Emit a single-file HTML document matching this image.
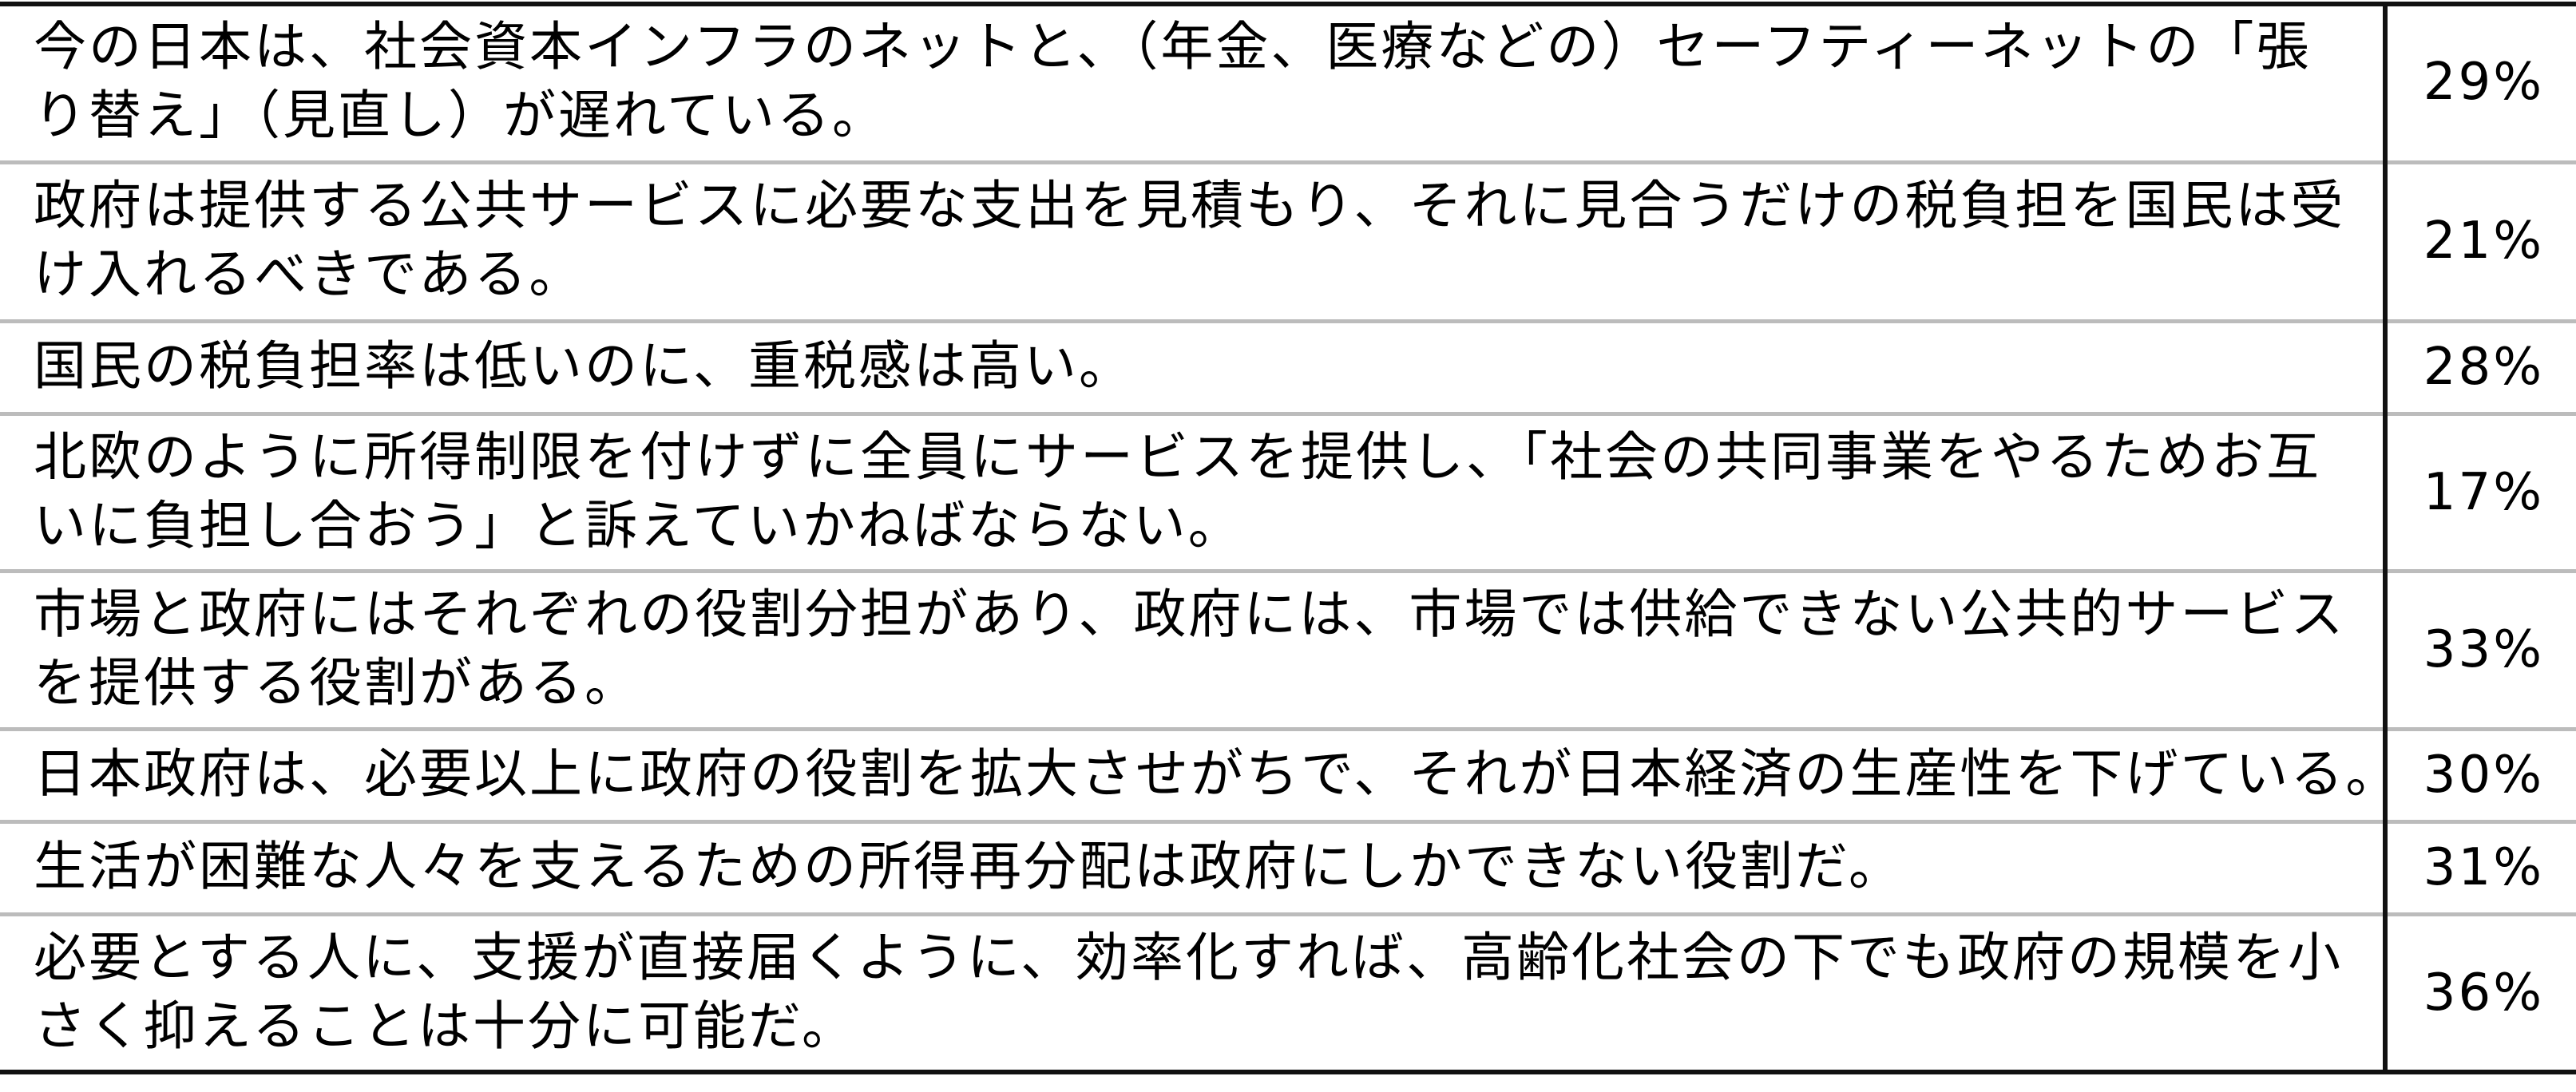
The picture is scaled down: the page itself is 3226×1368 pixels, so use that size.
<!DOCTYPE html>
<html><head><meta charset="utf-8"><style>
body{margin:0;width:3226px;height:1368px;background:#fff;position:relative;overflow:hidden;font-family:"Liberation Sans","Noto Sans CJK JP",sans-serif;color:#000}
.h{position:absolute;left:0;width:3226px}
.g{height:5px;background:#bcbcbc}
.b{height:6px;background:#111}
.v{position:absolute;left:2984px;top:4px;width:6px;height:1340px;background:#111}
.t{position:absolute;left:42px;font-size:66px;letter-spacing:3px;white-space:nowrap;line-height:86px;height:86px;margin-top:-45px}
.p{position:absolute;left:2990px;width:196px;text-align:right;font-size:64px;letter-spacing:3px;line-height:86px;margin-top:-43px;font-family:"DejaVu Sans",sans-serif}
</style></head><body>
<div class="h b" style="top:2px"></div>
<div class="h g" style="top:201px"></div>
<div class="h g" style="top:400px"></div>
<div class="h g" style="top:516px"></div>
<div class="h g" style="top:713px"></div>
<div class="h g" style="top:911px"></div>
<div class="h g" style="top:1027px"></div>
<div class="h g" style="top:1143px"></div>
<div class="h b" style="top:1340px"></div>
<div class="v"></div>

<div class="t" style="top:60px">今の日本は、社会資本インフラのネットと、（年金、医療などの）セーフティーネットの「張</div>
<div class="t" style="top:146px">り替え」（見直し）が遅れている。</div>
<div class="p" style="top:103px">29%</div>

<div class="t" style="top:259px">政府は提供する公共サービスに必要な支出を見積もり、それに見合うだけの税負担を国民は受</div>
<div class="t" style="top:345px">け入れるべきである。</div>
<div class="p" style="top:302px">21%</div>

<div class="t" style="top:460px">国民の税負担率は低いのに、重税感は高い。</div>
<div class="p" style="top:460px">28%</div>

<div class="t" style="top:574px">北欧のように所得制限を付けずに全員にサービスを提供し、「社会の共同事業をやるためお互</div>
<div class="t" style="top:660px">いに負担し合おう」と訴えていかねばならない。</div>
<div class="p" style="top:617px">17%</div>

<div class="t" style="top:771px">市場と政府にはそれぞれの役割分担があり、政府には、市場では供給できない公共的サービス</div>
<div class="t" style="top:857px">を提供する役割がある。</div>
<div class="p" style="top:814px">33%</div>

<div class="t" style="top:971px">日本政府は、必要以上に政府の役割を拡大させがちで、それが日本経済の生産性を下げている。</div>
<div class="p" style="top:971px">30%</div>

<div class="t" style="top:1087px">生活が困難な人々を支えるための所得再分配は政府にしかできない役割だ。</div>
<div class="p" style="top:1087px">31%</div>

<div class="t" style="top:1201px">必要とする人に、支援が直接届くように、効率化すれば、高齢化社会の下でも政府の規模を小</div>
<div class="t" style="top:1287px">さく抑えることは十分に可能だ。</div>
<div class="p" style="top:1244px">36%</div>
</body></html>
